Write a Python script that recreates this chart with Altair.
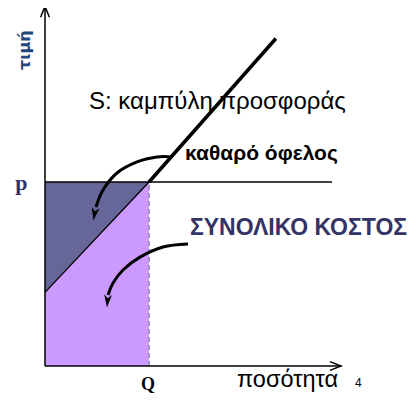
import altair as alt
import pandas as pd

# ---- data (quantity, price units) ----
Q = 10.0          # quantity
P = 10.0          # price
S_INTERCEPT = 4.0 # supply curve at q = 0
S_TOP_X, S_TOP_Y = 22.2, 17.8   # upper end of the drawn supply curve
X_AXIS_END = 28.5
Y_AXIS_END = 19.5
P_LINE_END = 27.6

# curved arrow 1 ("καθαρό όφελος")
arrow1_x = [12.21, 10.77, 8.85, 6.92, 5.58, 4.90]
arrow1_y = [11.36, 11.36, 11.09, 10.49, 9.57, 8.64]
head1 = (4.76, 8.26, 10)
# curved arrow 2 ("ΣΥΝΟΛΙΚΟ ΚΟΣΤΟΣ")
arrow2_x = [13.75, 11.35, 9.13, 7.50, 6.54, 6.06]
arrow2_y = [6.63, 6.47, 5.92, 5.22, 4.51, 3.86]
head2 = (6.01, 3.53, 5)

xs = alt.Scale(domain=[-3.558, 34.904], nice=False, zero=False)
ys = alt.Scale(domain=[-1.467, 19.457], nice=False, zero=False)


def X(f="x"):
    return alt.X(f, type="quantitative", scale=xs, axis=None)


def Y(f="y"):
    return alt.Y(f, type="quantitative", scale=ys, axis=None)


# areas
light = pd.DataFrame({"x": [0, Q], "y": [0, 0], "y2": [S_INTERCEPT, P]})
dark = pd.DataFrame({"x": [0, Q], "y": [S_INTERCEPT, P], "y2": [P, P]})

light_area = alt.Chart(light).mark_area(color="#cc99ff", opacity=1).encode(
    x=X(), y=Y(), y2="y2")
dark_area = alt.Chart(dark).mark_area(color="#666699", opacity=1).encode(
    x=X(), y=Y(), y2="y2")

# dashed Q line
qline = alt.Chart(pd.DataFrame({"x": [Q], "y": [0], "y2": [P]})).mark_rule(
    color="#a497bd", strokeWidth=2, strokeDash=[5, 3]).encode(x=X(), y=Y(), y2="y2")

# p line
pline = alt.Chart(pd.DataFrame({"x": [0], "x2": [P_LINE_END], "y": [P]})).mark_rule(
    color="black", strokeWidth=1.5).encode(x=X(), x2="x2", y=Y())

# axes
yaxis = alt.Chart(pd.DataFrame({"x": [0], "y": [0], "y2": [Y_AXIS_END]})).mark_rule(
    color="black", strokeWidth=1.5).encode(x=X(), y=Y(), y2="y2")
xaxis = alt.Chart(pd.DataFrame({"x": [0], "x2": [X_AXIS_END], "y": [0]})).mark_rule(
    color="black", strokeWidth=1.5).encode(x=X(), x2="x2", y=Y())

open_head = "M-1,-0.8 L1,0 L-1,0.8"
axis_heads = alt.Chart(pd.DataFrame({
    "x": [X_AXIS_END - 0.57, 0], "y": [0, Y_AXIS_END - 0.25], "a": [0, 270]})).mark_point(
    shape=open_head, filled=False, color="black", strokeWidth=1.5, size=121, opacity=1).encode(
    x=X(), y=Y(), angle=alt.Angle("a:Q", scale=None))

# supply curve
thin = alt.Chart(pd.DataFrame({"x": [0, Q], "y": [S_INTERCEPT, P]})).mark_line(
    color="black", strokeWidth=1.3).encode(x=X(), y=Y())
thick = alt.Chart(pd.DataFrame({"x": [Q, S_TOP_X], "y": [P, S_TOP_Y]})).mark_line(
    color="black", strokeWidth=3.5).encode(x=X(), y=Y())

# curved arrows
arr = pd.DataFrame({
    "x": arrow1_x + arrow2_x,
    "y": arrow1_y + arrow2_y,
    "g": ["a"] * len(arrow1_x) + ["b"] * len(arrow2_x),
    "o": list(range(len(arrow1_x))) + list(range(len(arrow2_x))),
})
arrows = alt.Chart(arr).mark_line(color="black", strokeWidth=3, interpolate="cardinal").encode(
    x=X(), y=Y(), detail="g:N", order="o:Q")

stealth = "M0,1 L-0.6,-1 L0,-0.45 L0.6,-1 Z"
heads = alt.Chart(pd.DataFrame({
    "x": [head1[0], head2[0]], "y": [head1[1], head2[1]], "a": [head1[2], head2[2]]})).mark_point(
    shape=stealth, filled=True, color="black", size=169, opacity=1, strokeWidth=0).encode(
    x=X(), y=Y(), angle=alt.Angle("a:Q", scale=None))

# texts
def txt(df, **kw):
    return alt.Chart(df).mark_text(**kw).encode(x=X(), y=Y(), text="t:N")

t_price = txt(pd.DataFrame({"x": [-1.92], "y": [17.17], "t": ["τιμή"]}),
              font="DejaVu Sans", fontWeight="bold", fontSize=16, color="#1F497D",
              angle=270, align="center", baseline="middle")
t_p = txt(pd.DataFrame({"x": [-2.26], "y": [9.57], "t": ["p"]}),
          font="Liberation Serif", fontWeight="bold", fontSize=22, color="#333366",
          align="center", baseline="alphabetic")
t_q = txt(pd.DataFrame({"x": [Q - 0.1], "y": [-1.30], "t": ["Q"]}),
          font="Liberation Serif", fontWeight="bold", fontSize=18, color="black",
          align="center", baseline="alphabetic")
t_qty = txt(pd.DataFrame({"x": [18.46], "y": [-1.14], "t": ["ποσότητα"]}),
            font="Liberation Sans", fontSize=23.5, color="black",
            align="left", baseline="alphabetic")
t_four = txt(pd.DataFrame({"x": [29.8], "y": [-1.14], "t": ["4"]}),
             font="Liberation Sans", fontSize=12, color="black",
             align="left", baseline="alphabetic")
t_s = txt(pd.DataFrame({"x": [4.23], "y": [13.97], "t": ["S: καμπύλη προσφοράς"]}),
          font="Liberation Sans", fontSize=24, color="black",
          align="left", baseline="alphabetic")
t_net = txt(pd.DataFrame({"x": [13.46], "y": [11.2], "t": ["καθαρό όφελος"]}),
            font="Liberation Sans", fontWeight="bold", fontSize=21, color="black",
            align="left", baseline="alphabetic")
t_cost = txt(pd.DataFrame({"x": [13.94], "y": [7.12], "t": ["ΣΥΝΟΛΙΚΟ ΚΟΣΤΟΣ"]}),
             font="Liberation Sans", fontWeight="bold", fontSize=23, color="#333366",
             align="left", baseline="alphabetic")

chart = alt.layer(
    light_area, dark_area, qline, pline, thin, thick, yaxis, xaxis, axis_heads,
    arrows, heads, t_price, t_p, t_q, t_qty, t_four, t_s, t_net, t_cost,
).properties(
    width=400, height=385, padding=0,
    autosize=alt.AutoSizeParams(type="none"),
).configure_view(strokeWidth=0)

chart.save("out.html", embed_options={"renderer": "svg", "actions": False})
